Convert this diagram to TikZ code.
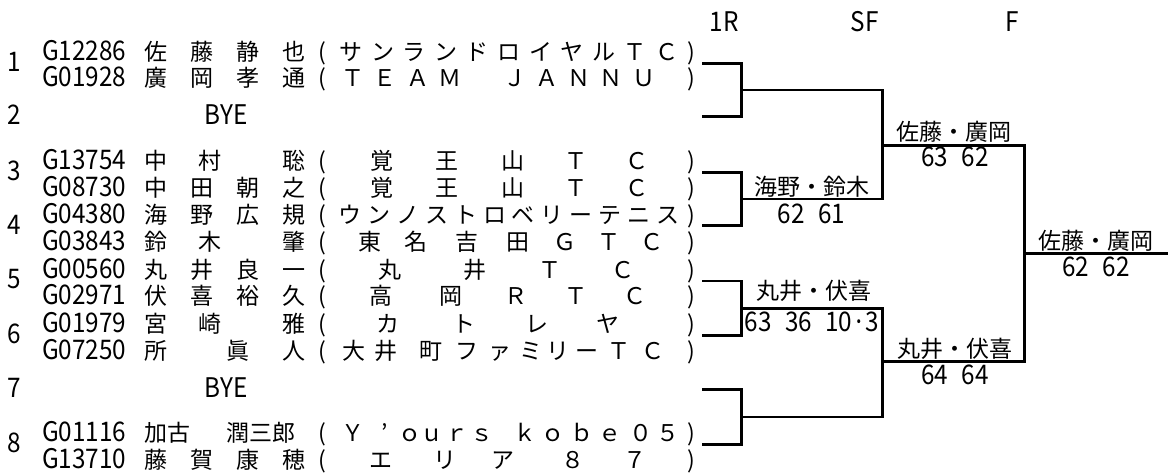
\documentclass[tikz,border=0pt]{standalone}
\usepackage{fontspec}
\setmainfont{Noto Sans CJK JP}
\newfontfamily\jpf{Noto Sans CJK JP}
\newfontfamily\latf[FakeStretch=0.9]{Noto Sans CJK JP}
\newcommand\dgap{\hspace*{\fontcharwd\font`\0}}
\newcommand\mdot{\makebox[\fontcharwd\font`\0]{·}}
\tikzset{
  jpt/.style={inner sep=0pt, font=\jpf\fontsize{23}{23}\selectfont},
  latt/.style={inner sep=0pt, font=\latf\fontsize{27}{27}\selectfont},
  br/.style={line width=2.8pt, line join=miter},
  fin/.style={line width=2.5pt}
}
\newcommand\playerrow[5]{%
  \node[latt, anchor=base west] (#1-id) at (42,#2) {#3};
  \foreach \ch/\pp [count=\i] in {#4}
    \node[jpt, anchor=base] (#1-n\i) at ({156+23*\pp},#2) {\ch};
  \node[jpt, anchor=base] (#1-lp) at (322,#2) {(};
  \foreach \ch/\xx [count=\i] in {#5}
    \node[jpt, anchor=base] (#1-c\i) at (\xx,#2) {\ch};
  \node[jpt, anchor=base] (#1-rp) at (691.5,#2) {)};
}
\begin{document}
\begin{tikzpicture}[x=1pt,y=-1pt]
\fill[white] (0,0) rectangle (1168,475);
\useasboundingbox (0,0) rectangle (1168,475);

% headers
\node[latt, anchor=base] (h1) at (724,31.5) {1R};
\node[latt, anchor=base] (h2) at (864.5,31.5) {SF};
\node[latt, anchor=base] (h3) at (1012.5,31.5) {F};

% draw numbers
\node[latt, anchor=base] (d1) at (14.5,71) {1};
\node[latt, anchor=base] (d2) at (14.5,124.2) {2};
\node[latt, anchor=base] (d3) at (14.5,180) {3};
\node[latt, anchor=base] (d4) at (14.5,234) {4};
\node[latt, anchor=base] (d5) at (14.5,288.5) {5};
\node[latt, anchor=base] (d6) at (14.5,343) {6};
\node[latt, anchor=base] (d7) at (14.5,397) {7};
\node[latt, anchor=base] (d8) at (14.5,452) {8};

% players
\playerrow{r1a}{60.3}{G12286}{佐/0,藤/2,静/4,也/6}{サ/351,ン/382.6,ラ/414.2,ン/445.8,ド/477.4,ロ/509,イ/540.6,ヤ/572.2,ル/603.8,Ｔ/635.4,Ｃ/667}
\playerrow{r1b}{86.8}{G01928}{廣/0,岡/2,孝/4,通/6}{Ｔ/353,Ｅ/385.3,Ａ/417.6,Ｍ/449.9,Ｊ/514.5,Ａ/546.8,Ｎ/579,Ｎ/611.4,Ｕ/643.7}
\node[latt, anchor=base] (bye2) at (226,124.2) {BYE};
\playerrow{r3a}{169.5}{G13754}{中/0,村/2.35,聡/6}{覚/382,王/447,山/513,Ｔ/576,Ｃ/637}
\playerrow{r3b}{196}{G08730}{中/0,田/2,朝/4,之/6}{覚/382,王/447,山/513,Ｔ/576,Ｃ/637}
\playerrow{r4a}{223.5}{G04380}{海/0,野/2,広/4,規/6}{ウ/350,ン/378.9,ノ/407.8,ス/436.7,ト/465.6,ロ/494.5,ベ/523.4,リ/552.3,ー/581.2,テ/610.1,ニ/639,ス/667.9}
\playerrow{r4b}{250}{G03843}{鈴/0,木/2.35,肇/6}{東/370,名/416,吉/467,田/518,Ｇ/565,Ｔ/609,Ｃ/652}
\playerrow{r5a}{278}{G00560}{丸/0,井/2,良/4,一/6}{丸/390,井/475,Ｔ/550,Ｃ/623}
\playerrow{r5b}{304.5}{G02971}{伏/0,喜/2,裕/4,久/6}{高/381,岡/451,Ｒ/516,Ｔ/576,Ｃ/635}
\playerrow{r6a}{332.5}{G01979}{宮/0,崎/2.35,雅/6}{カ/388,ト/464,レ/537,ヤ/608}
\playerrow{r6b}{359}{G07250}{所/0,眞/3.55,人/6}{大/354,井/386,町/431,フ/467,ァ/500,ミ/531,リ/558,ー/587,Ｔ/619,Ｃ/653}
\node[latt, anchor=base] (bye7) at (226,397) {BYE};
\playerrow{r8a}{441.5}{G01116}{加/0,古/1,潤/3.55,三/4.55,郎/5.55}{Ｙ/353,’/385,ｏ/410,ｕ/432,ｒ/457,ｓ/482,ｋ/525,ｏ/553,ｂ/582,ｅ/610,０/641,５/668}
\playerrow{r8b}{468}{G13710}{藤/0,賀/2,康/4,穂/6}{エ/381,リ/445,ア/503,８/573,７/635}

% bracket coordinates
\coordinate (e1) at (702,63.3);
\coordinate (e2) at (702,116.7);
\coordinate (e3) at (702,172.5);
\coordinate (e4) at (702,225.5);
\coordinate (e5) at (702,281);
\coordinate (e6) at (702,335.5);
\coordinate (e7) at (702,389.5);
\coordinate (e8) at (702,444.5);
\coordinate (m1) at (741.7,90);
\coordinate (m2) at (741.7,199);
\coordinate (m3) at (741.7,308.2);
\coordinate (m4) at (741.7,417);
\coordinate (s1) at (882.7,145.3);
\coordinate (s2) at (882.7,361.8);
\coordinate (f1) at (1024.3,253.5);
\coordinate (w) at (1168,253.5);

\draw[br] (e1) -| (m1) |- (e2);
\draw[br] (e3) -| (m2) |- (e4);
\draw[br] (e5) -| (m3) |- (e6);
\draw[br] (e7) -| (m4) |- (e8);
\draw[br] (m1) -| (s1) |- (m2);
\draw[br] (m3) -| (s2) |- (m4);
\draw[br] (s1) -| (f1) |- (s2);
\draw[fin] (f1) -- (w);

% results
\node[jpt, anchor=base] (q2) at (812,195) {海野・鈴木};
\node[latt, anchor=base] (q2s) at (811.5,223.3) {62\dgap 61};
\node[jpt, anchor=base] (q3) at (814,299.7) {丸井・伏喜};
\node[latt, anchor=base] (q3s) at (812,331.3) {63\dgap 36\dgap 10\mdot 3};
\node[jpt, anchor=base] (p1) at (954,140.7) {佐藤・廣岡};
\node[latt, anchor=base] (p1s) at (955,166.3) {63\dgap 62};
\node[jpt, anchor=base] (p2) at (955,357.7) {丸井・伏喜};
\node[latt, anchor=base] (p2s) at (955,384.3) {64\dgap 64};
\node[jpt, anchor=base] (ch) at (1096,249.7) {佐藤・廣岡};
\node[latt, anchor=base] (chs) at (1096,276.3) {62\dgap 62};
\end{tikzpicture}
\end{document}
